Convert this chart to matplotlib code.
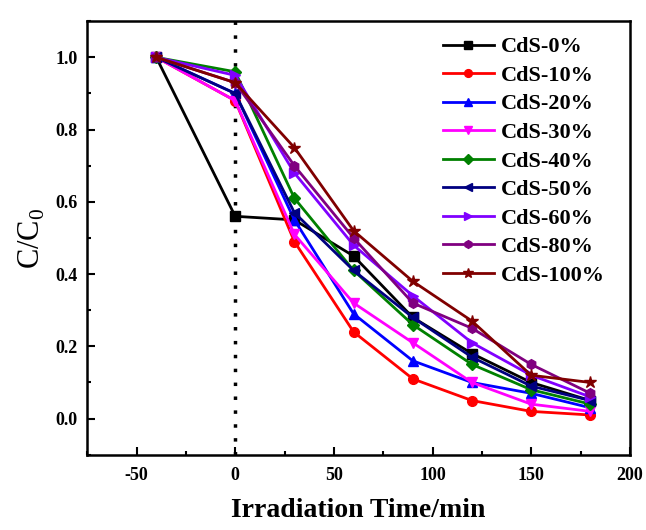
import matplotlib
matplotlib.use("Agg")
import matplotlib.pyplot as plt
from matplotlib.ticker import MultipleLocator

plt.rcParams['font.family'] = ['Liberation Serif', 'DejaVu Serif']
plt.rcParams['mathtext.fontset'] = 'custom'
plt.rcParams['mathtext.rm'] = 'Liberation Serif'
plt.rcParams['axes.unicode_minus'] = False

# time points (min)
time = [-40, 0, 30, 60, 90, 120, 150, 180]

# C/C0 for each sample
cds_0 = [1.0, 0.56, 0.55, 0.45, 0.28, 0.18, 0.10, 0.05]
cds_10 = [1.0, 0.88, 0.49, 0.24, 0.11, 0.05, 0.02, 0.01]
cds_20 = [1.0, 0.90, 0.55, 0.29, 0.16, 0.10, 0.07, 0.03]
cds_30 = [1.0, 0.88, 0.51, 0.32, 0.21, 0.10, 0.04, 0.02]
cds_40 = [1.0, 0.96, 0.61, 0.41, 0.26, 0.15, 0.08, 0.04]
cds_50 = [1.0, 0.90, 0.57, 0.41, 0.28, 0.17, 0.09, 0.05]
cds_60 = [1.0, 0.95, 0.68, 0.48, 0.34, 0.21, 0.12, 0.06]
cds_80 = [1.0, 0.93, 0.70, 0.50, 0.32, 0.25, 0.15, 0.07]
cds_100 = [1.0, 0.93, 0.75, 0.52, 0.38, 0.27, 0.12, 0.10]

labels = ['CdS-0%', 'CdS-10%', 'CdS-20%', 'CdS-30%', 'CdS-40%',
          'CdS-50%', 'CdS-60%', 'CdS-80%', 'CdS-100%']
series = [cds_0, cds_10, cds_20, cds_30, cds_40, cds_50, cds_60, cds_80, cds_100]
colors = ['black', 'red', 'blue', 'magenta', 'green', 'navy', '#8000ff', 'purple', 'maroon']
markers = ['s', 'o', '^', 'v', 'D', '<', '>', 'h', '*']

fig = plt.figure(figsize=(6.46, 5.30), dpi=100)
ax = fig.add_axes([0.135, 0.142, 0.84, 0.818])

for y, lab, c, m in zip(series, labels, colors, markers):
    ms = 9 if m == '*' else 7
    if m == 'D':
        ms = 6
    ax.plot(time, y, color=c, marker=m, markersize=ms, linewidth=2, label=lab)

# dark/light boundary
ax.axvline(0, color='black', linestyle=(0, (1, 3)), linewidth=2.5, zorder=0)

ax.set_xlim(-75, 200)
ax.set_ylim(-0.1, 1.1)
ax.xaxis.set_major_locator(MultipleLocator(50))
ax.xaxis.set_minor_locator(MultipleLocator(25))
ax.yaxis.set_major_locator(MultipleLocator(0.2))
ax.yaxis.set_minor_locator(MultipleLocator(0.1))
ax.tick_params(which='both', direction='in', width=1.5, labelsize=13)
ax.tick_params(which='major', length=6)
ax.tick_params(which='minor', length=3)
ax.tick_params(axis='x', pad=9)
ax.tick_params(axis='y', pad=7)
for lbl in ax.get_xticklabels() + ax.get_yticklabels():
    lbl.set_fontweight('bold')
for sp in ax.spines.values():
    sp.set_linewidth(1.8)

ax.set_xlabel('Irradiation Time/min', fontsize=20, fontweight='bold', labelpad=10)
ax.set_ylabel(r'C/C$_0$', fontsize=22, labelpad=6)

ax.legend(loc='upper right', bbox_to_anchor=(0.982, 1.0), frameon=False,
          prop={'weight': 'bold', 'size': 16},
          labelspacing=0.36, handlelength=2.3, handletextpad=0.3,
          borderaxespad=0.3, markerscale=0.8)

fig.savefig('out.png', dpi=100)
